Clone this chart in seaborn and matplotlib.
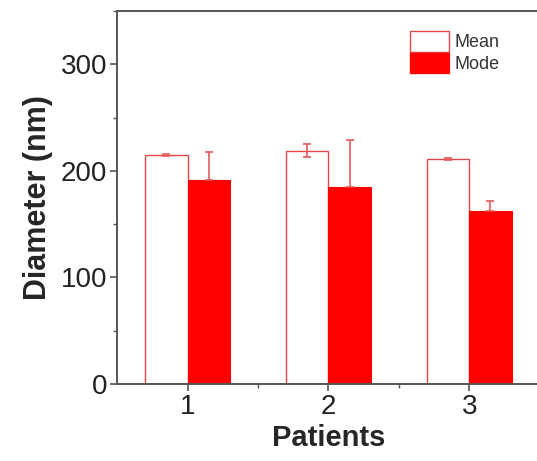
import pandas as pd
import matplotlib.pyplot as plt
import seaborn as sns
from matplotlib.ticker import MultipleLocator, FixedLocator
from matplotlib.patches import Patch


# Data
patients = ["1", "2", "3"]
mean_vals = [215, 219, 211]
mean_err = [1.2, 6, 1.2]
mode_vals = [191, 185, 162]
mode_err = [27, 44, 10]

df = pd.DataFrame({
    "Patients": patients * 2,
    "Diameter": mean_vals + mode_vals,
    "Stat": ["Mean"] * 3 + ["Mode"] * 3,
})

sns.set_style("ticks")
plt.rcParams["font.family"] = ["Liberation Sans", "DejaVu Sans"]

fig = plt.figure(figsize=(5.37, 4.61), dpi=100)
ax = fig.add_axes([0.218, 0.167, 0.787, 0.809])

sns.barplot(
    data=df, x="Patients", y="Diameter", hue="Stat",
    palette={"Mean": "white", "Mode": "#ff0000"},
    width=0.6, errorbar=None, legend=False, ax=ax,
)

# style bars: Mean = red outline, Mode = solid red
edge_red = "#e64545"
mean_bars = ax.patches[:3]
mode_bars = ax.patches[3:6]
for p in mean_bars:
    p.set_facecolor("white")
    p.set_edgecolor(edge_red)
    p.set_linewidth(1.0)
for p in mode_bars:
    p.set_facecolor("#ff0000")
    p.set_edgecolor("#ff0000")
    p.set_linewidth(0.8)

# error bars
err_col = "#e35a5a"
mx = [p.get_x() + p.get_width() / 2 for p in mean_bars]
ox = [p.get_x() + p.get_width() / 2 for p in mode_bars]
ax.errorbar(mx, mean_vals, yerr=mean_err, fmt="none", ecolor=err_col,
            elinewidth=1.2, capsize=3, capthick=1.2)
ax.errorbar(ox, mode_vals, yerr=[[0] * 3, mode_err], fmt="none",
            ecolor=err_col, elinewidth=1.2, capsize=3, capthick=1.2)

ax.set_xlim(-0.5, 2.5)
ax.set_ylim(0, 350)
ax.yaxis.set_major_locator(FixedLocator([0, 100, 200, 300]))
ax.yaxis.set_minor_locator(MultipleLocator(50))
ax.xaxis.set_minor_locator(FixedLocator([0.5, 1.5]))

ax.tick_params(which="major", direction="out", length=5, width=1.2,
               color="#555555", labelsize=20, labelcolor="#222222", pad=2)
ax.tick_params(which="minor", direction="out", length=3, width=1.0,
               color="#555555")

for side in ["left", "top", "bottom"]:
    ax.spines[side].set_color("#555555")
    ax.spines[side].set_linewidth(1.4)
ax.spines["right"].set_visible(False)

ax.set_xlabel("Patients", fontsize=21, fontweight="bold", labelpad=3)
ax.set_ylabel("Diameter (nm)", fontsize=22, fontweight="bold", labelpad=6)

handles = [
    Patch(facecolor="white", edgecolor=edge_red, linewidth=1.0, label="Mean"),
    Patch(facecolor="#ff0000", edgecolor="#ff0000", label="Mode"),
]
ax.legend(handles=handles, loc="upper left", bbox_to_anchor=(0.675, 0.965),
          frameon=False, fontsize=13, handlelength=2.2, handleheight=1.35,
          handletextpad=0.3, labelspacing=0.05, borderaxespad=0,
          labelcolor="#333333")

fig.savefig("out.png", dpi=100)
